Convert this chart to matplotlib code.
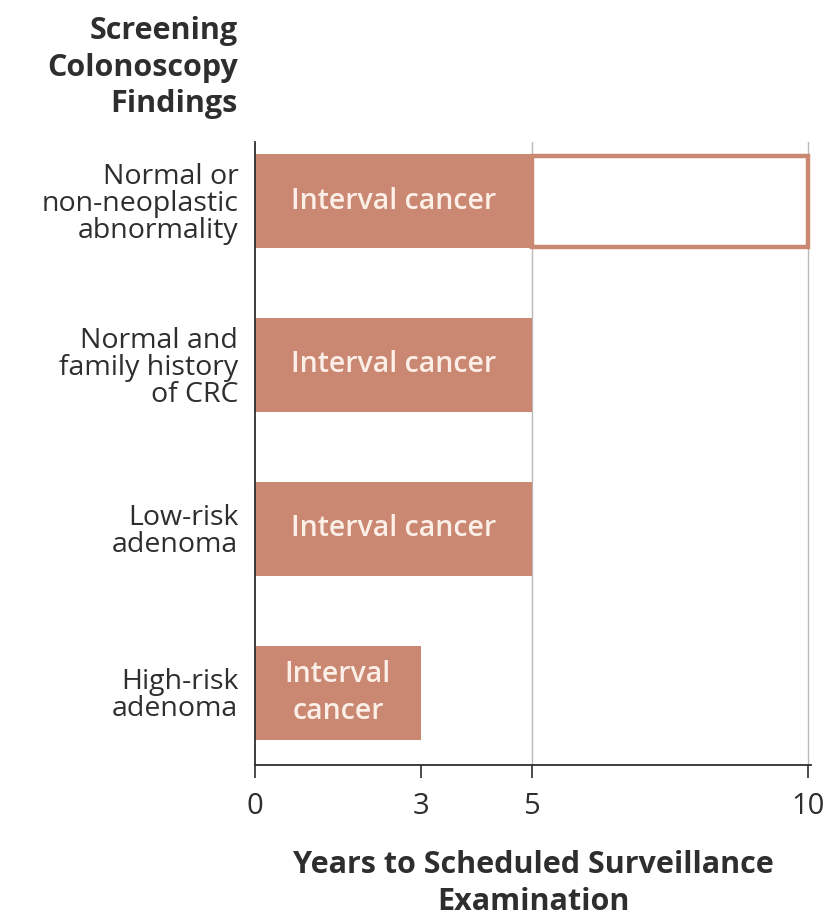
import numpy as np
import matplotlib
matplotlib.use("Agg")
import matplotlib.pyplot as plt

plt.rcParams["font.family"] = ["Open Sans", "DejaVu Sans"]

INK = "#2E2E2E"
BAR = "#CA8872"
BAR_TEXT = "#FBEFE7"
GRID = "#B8B8B8"

categories = ["Normal or\nnon-neoplastic\nabnormality",
              "Normal and\nfamily history\nof CRC",
              "Low-risk\nadenoma",
              "High-risk\nadenoma"]
interval_years = [5, 5, 5, 3]
scheduled_years = [10, 5, 5, 3]
bar_labels = ["Interval cancer", "Interval cancer", "Interval cancer", "Interval\ncancer"]
xticks = [0, 3, 5, 10]

fig = plt.figure(figsize=(8.38, 9.22), dpi=100)
ax = fig.add_axes([0.3043, 0.1703, 0.6635, 0.6757])

y = np.arange(len(categories))
h = 0.575

# vertical grid at the surveillance intervals
for gx in (5, 10):
    ax.axvline(gx, color=GRID, lw=1.0, zorder=0)

ax.barh(y, interval_years, height=h, color=BAR, lw=0, zorder=2)
extra = np.array(scheduled_years) - np.array(interval_years)
for yi, start, w in zip(y, interval_years, extra):
    if w > 0:
        ax.barh(yi, w, left=start, height=h - 0.02, color="white",
                edgecolor=BAR, lw=3.2, zorder=2)

for yi, val, lab in zip(y, interval_years, bar_labels):
    ax.text(val / 2, yi, lab, ha="center", va="center", fontsize=20.5,
            color=BAR_TEXT, fontweight="semibold", linespacing=1.38, zorder=3)

ax.set_xlim(0, 10.05)
ax.set_ylim(3.44, -0.36)
ax.set_yticks(y)
ax.set_yticklabels(categories, fontsize=20.5, color=INK, linespacing=0.95)
ax.tick_params(axis="y", length=0, pad=12)
ax.set_xticks(xticks)
ax.set_xticklabels([str(t) for t in xticks], fontsize=21, color=INK)
ax.tick_params(axis="x", length=9.4, width=1.2, color=INK, pad=10)

for s in ("top", "right"):
    ax.spines[s].set_visible(False)
for s in ("left", "bottom"):
    ax.spines[s].set_color(INK)
    ax.spines[s].set_linewidth(1.3)

ax.set_xlabel("Years to Scheduled Surveillance\nExamination", fontsize=22,
              fontweight="bold", color=INK, labelpad=21, linespacing=1.3)

fig.text(0.284, 0.983, "Screening\nColonoscopy\nFindings", ha="right", va="top",
         fontsize=22, fontweight="bold", color=INK, linespacing=1.3)

fig.savefig("out.png", dpi=100, facecolor="white")
